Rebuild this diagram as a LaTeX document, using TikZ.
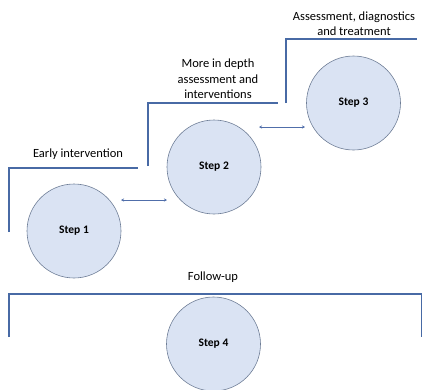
\documentclass[tikz,border=0pt]{standalone}
\usepackage{fontspec}
\setmainfont{Carlito}
\usetikzlibrary{arrows.meta}
\definecolor{circfill}{RGB}{218,227,243}
\definecolor{circline}{RGB}{110,125,150}
\definecolor{brk}{RGB}{72,106,165}
\definecolor{arr}{RGB}{80,110,170}
\begin{document}
\begin{tikzpicture}[x=1pt,y=-1pt,
  stepnode/.style={circle,draw=circline,fill=circfill,line width=0.6pt,minimum size=94pt,inner sep=0pt,font=\fontsize{11.5}{13}\selectfont\bfseries},
  bracket/.style={draw=brk,line width=1.5pt},
  link/.style={draw=arr,line width=0.6pt,{Stealth[length=3pt,width=3pt]}-{Stealth[length=3pt,width=3pt]}},
  lbl/.style={font=\fontsize{12.5}{15.5}\selectfont,align=center,inner sep=0pt}]
\useasboundingbox (0,0) rectangle (423,389);
\node[stepnode] (s1) at (74,231) {Step 1};
\node[stepnode] (s2) at (214,167) {Step 2};
\node[stepnode] (s3) at (353.5,103) {Step 3};
\node[stepnode] (s4) at (213.5,344) {Step 4};
% brackets
\coordinate (b1a) at (9,232); \coordinate (b1b) at (9,168); \coordinate (b1c) at (138,168);
\draw[bracket] (b1a) -- (b1b) -- (b1c);
\coordinate (b2a) at (148,166); \coordinate (b2b) at (148,103); \coordinate (b2c) at (278,103);
\draw[bracket] (b2a) -- (b2b) -- (b2c);
\coordinate (b3a) at (286,103); \coordinate (b3b) at (286,39); \coordinate (b3c) at (417,39);
\draw[bracket] (b3a) -- (b3b) -- (b3c);
\coordinate (b4a) at (9,337); \coordinate (b4b) at (9,294); \coordinate (b4c) at (421.5,294); \coordinate (b4d) at (421.5,337);
\draw[bracket] (b4a) -- (b4b) -- (b4c) -- (b4d);
% arrows
\coordinate (a1) at (121,200); \coordinate (a2) at (167,200);
\draw[link] (a1) -- (a2);
\coordinate (a3) at (259,127); \coordinate (a4) at (305,127);
\draw[link] (a3) -- (a4);
% labels
\node[lbl] (t3) at (354,23.5) {Assessment, diagnostics\\and treatment};
\node[lbl] (t2) at (218,79) {More in depth\\assessment and\\interventions};
\node[lbl] (t1) at (78,154) {Early intervention};
\node[lbl] (t4) at (213,277) {Follow-up};
\end{tikzpicture}
\end{document}
